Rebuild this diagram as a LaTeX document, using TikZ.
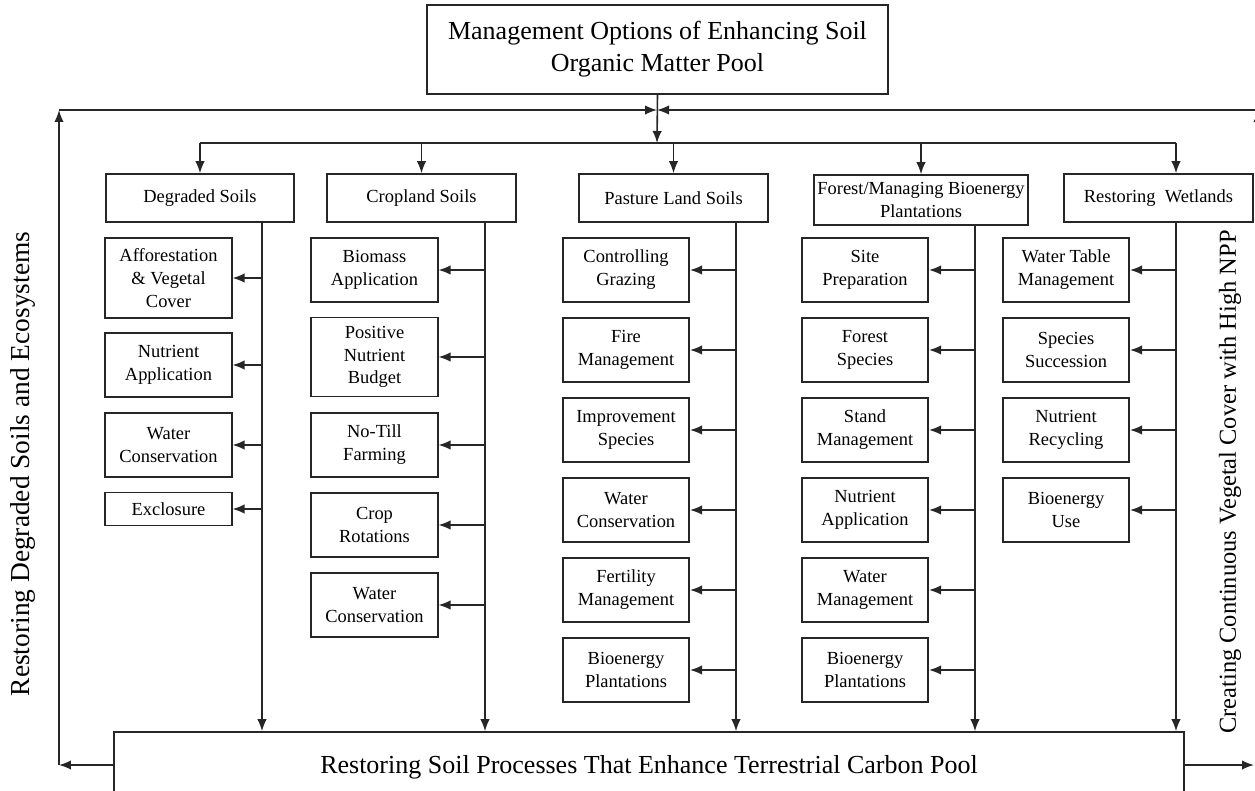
\documentclass[tikz,border=0pt]{standalone}
\usepackage{fontspec}
\setmainfont{Liberation Serif}
\usetikzlibrary{arrows.meta}
\colorlet{linecolor}{black!85}
\tikzset{
    mainbox/.style={draw=linecolor, line width=0.9pt, align=center, inner sep=2pt},
    catbox/.style={mainbox, font=\fontsize{10.5}{13}\selectfont, minimum height=0.96cm},
    optbox/.style={mainbox, font=\fontsize{10.5}{13}\selectfont, minimum width=2.53cm, minimum height=1.28cm},
    bigbox/.style={mainbox, font=\fontsize{14.8}{18.1}\selectfont},
    sidelabel/.style={rotate=90, font=\fontsize{13.9}{17}\selectfont},
    arr/.style={-{Latex[length=2.4mm,width=1.9mm]}, draw=linecolor, line width=0.9pt},
}

\begin{document}
\begin{tikzpicture}[x=0.02cm, y=-0.02cm]
    \useasboundingbox (0,0) rectangle (1255,791);
    \clip (0,0) rectangle (1255,791);
    % --- Goal (top) and result (bottom) ---
    \node[bigbox, minimum width=9.22cm, minimum height=1.78cm] (goal) at (657.5,49.5) {Management Options of Enhancing Soil\\Organic Matter Pool};
    \node[bigbox, minimum width=21.4cm, minimum height=1.4cm] (result) at (649,767) {Restoring Soil Processes That Enhance Terrestrial Carbon Pool};
    % --- Land-use categories ---
    \node[catbox, minimum width=3.76cm] (degr) at (200,198) {Degraded Soils};
    \node[catbox, minimum width=3.78cm] (crop) at (421.5,198) {Cropland Soils};
    \node[catbox, minimum width=3.78cm] (past) at (673.5,198) {Pasture Land Soils};
    \node[catbox, minimum width=4.28cm, minimum height=1.0cm, inner xsep=1pt] (fore) at (921,200) {Forest/Managing Bioenergy\\Plantations};
    \node[catbox, minimum width=3.78cm] (wetl) at (1158.5,198) {Restoring\ \ Wetlands};
    % --- Side labels ---
    \node[sidelabel, font=\fontsize{15.6}{18}\selectfont] (leftlab) at (23,464) {Restoring Degraded Soils and Ecosystems};
    \node[sidelabel] (rightlab) at (1230,482) {Creating Continuous Vegetal Cover with High NPP};
    % --- Feedback loop and split ---
    \coordinate (hub) at (657,110);
    \coordinate (split) at (657,143);
    \coordinate (ltop) at (59,110);
    \coordinate (lbot) at (59,765);
    \coordinate (rtop) at (1258,110);
    \coordinate (rbot) at (1258,765);
    \coordinate (rtip) at (1254,765);
    \draw[arr] (goal.south) -- (split);
    \draw[arr] (ltop) -- (hub);
    \draw[arr] (rtop) -- (hub);
    \draw[arr] (result.west |- lbot) -- (lbot);
    \draw[arr] (lbot) -- (ltop);
    \draw[arr] (result.east |- rtip) -- (rtip);
    \draw[arr] (rbot) -- (rtop);
    % --- Trunks of each category ---
    \foreach \c/\x in {degr/262, crop/485, past/736, fore/975, wetl/1176} {
            \coordinate (\c-trunk) at (\x,222);
            \draw[arr] (\c.south -| \c-trunk) -- (result.north -| \c-trunk);
        }
    \draw[linecolor, line width=0.9pt] (degr.north |- split) -- (wetl-trunk |- split);
    \foreach \c in {degr, crop, past, fore} {
            \draw[arr] (\c.north |- split) -- (\c.north);
        }
    \draw[arr] (wetl-trunk |- split) -- (wetl-trunk |- wetl.north);
    % --- Degraded soils ---
    \node[optbox, minimum height=1.6cm] (degr1) at (168.5,278) {Afforestation\\\& Vegetal\\Cover};
    \node[optbox] (degr2) at (168.5,365) {Nutrient\\Application};
    \node[optbox] (degr3) at (168.5,445) {Water\\Conservation};
    \node[optbox, minimum height=0.66cm] (degr4) at (168.5,509) {Exclosure};
    % --- Cropland soils ---
    \node[optbox] (crop1) at (374.5,270) {Biomass\\Application};
    \node[optbox, minimum height=1.58cm] (crop2) at (374.5,357) {Positive\\Nutrient\\Budget};
    \node[optbox] (crop3) at (374.5,445) {No-Till\\Farming};
    \node[optbox] (crop4) at (374.5,525) {Crop\\Rotations};
    \node[optbox] (crop5) at (374.5,605) {Water\\Conservation};
    % --- Pasture, forest and wetland options (same spacing) ---
    \foreach \t [count=\i] in {{Controlling\\Grazing}, {Fire\\Management}, {Improvement\\Species}, {Water\\Conservation}, {Fertility\\Management}, {Bioenergy\\Plantations}} {
            \node[optbox] (past\i) at (626,190+80*\i) {\t};
        }
    \foreach \t [count=\i] in {{Site\\Preparation}, {Forest\\Species}, {Stand\\Management}, {Nutrient\\Application}, {Water\\Management}, {Bioenergy\\Plantations}} {
            \node[optbox] (fore\i) at (865,190+80*\i) {\t};
        }
    \foreach \t [count=\i] in {{Water Table\\Management}, {Species\\Succession}, {Nutrient\\Recycling}, {Bioenergy\\Use}} {
            \node[optbox] (wetl\i) at (1066,190+80*\i) {\t};
        }
    % --- Side arrows into the options ---
    \foreach \c/\n in {degr/4, crop/5, past/6, fore/6, wetl/4} {
            \foreach \i in {1,...,\n} {
                    \draw[arr] (\c-trunk |- \c\i.east) -- (\c\i.east);
                }
        }
\end{tikzpicture}
\end{document}
